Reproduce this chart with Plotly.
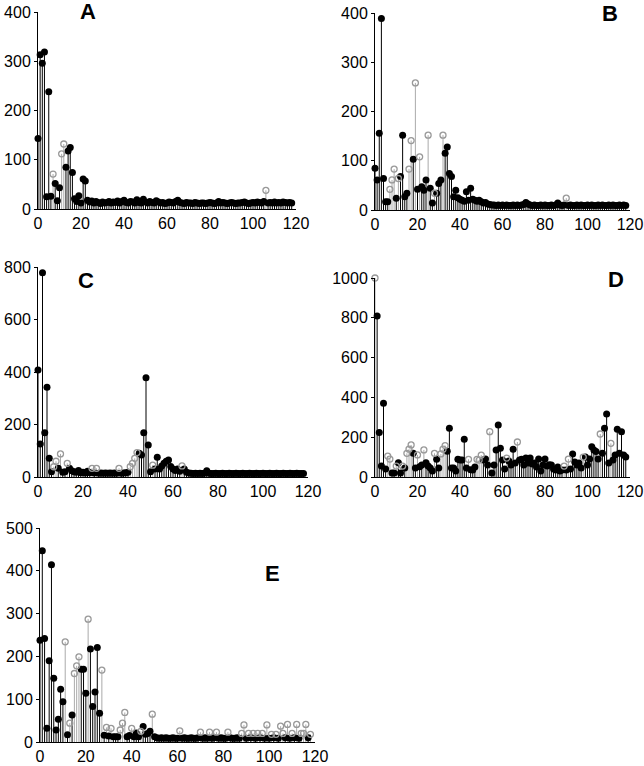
import plotly.graph_objects as go

# ---------------- data (x = 0..118 for every panel) ----------------
a_vals = [143, 313, 296, 319, 25, 238, 26, 71, 52, 17, 43, 112, 132, 85, 118, 125, 74, 21, 15, 27,
          12, 61, 57, 18, 14, 16, 12, 15, 13, 11, 14, 12, 13, 15, 12, 14, 13, 16, 12, 15,
          18, 13, 12, 15, 14, 12, 19, 13, 12, 20, 14, 12, 15, 13, 12, 17, 14, 12, 13, 11,
          12, 14, 13, 12, 15, 18, 13, 12, 11, 13, 12, 12, 11, 13, 12, 11, 12, 12, 11, 12,
          13, 12, 11, 12, 15, 12, 13, 12, 11, 12, 13, 12, 11, 12, 12, 13, 14, 12, 11, 12,
          13, 12, 14, 13, 12, 15, 38, 12, 13, 12, 14, 12, 13, 12, 14, 13, 12, 13, 12]
a_gray = [7, 11, 12, 106]

b_vals = [85, 61, 156, 389, 64, 17, 17, 42, 61, 83, 24, 64, 68, 152, 27, 34, 83, 141, 103, 258,
          42, 108, 47, 40, 61, 152, 44, 14, 34, 34, 54, 61, 152, 115, 128, 74, 68, 27, 40, 25,
          22, 20, 18, 37, 20, 44, 22, 20, 18, 20, 17, 14, 15, 12, 11, 10, 10, 9, 10, 9,
          10, 9, 10, 9, 9, 10, 9, 10, 9, 10, 11, 15, 12, 10, 9, 10, 9, 9, 10, 9,
          10, 9, 9, 10, 9, 10, 14, 10, 9, 10, 24, 9, 10, 9, 9, 10, 9, 10, 9, 9,
          10, 9, 10, 9, 9, 10, 9, 10, 9, 9, 10, 9, 10, 9, 9, 10, 9, 10, 9]
b_gray = [7, 8, 9, 11, 16, 17, 19, 21, 25, 28, 32, 90]

c_vals = [408, 126, 778, 169, 342, 71, 20, 39, 60, 33, 88, 18, 20, 52, 33, 24, 20, 18, 25, 16,
          18, 15, 22, 16, 33, 15, 33, 14, 15, 14, 15, 14, 15, 14, 15, 14, 33, 14, 15, 16,
          18, 39, 52, 71, 93, 90, 84, 169, 378, 122, 20, 45, 30, 75, 30, 42, 52, 60, 65, 40,
          30, 25, 30, 22, 42, 30, 18, 15, 14, 13, 14, 13, 14, 13, 14, 24, 14, 13, 13, 14,
          13, 13, 14, 13, 13, 14, 13, 13, 14, 13, 13, 14, 13, 13, 14, 13, 13, 14, 13, 13,
          14, 13, 13, 14, 13, 13, 14, 13, 13, 14, 13, 13, 14, 13, 13, 14, 13, 13, 13]
c_gray = [7, 8, 10, 13, 24, 26, 36, 41, 42, 43, 44, 51, 64]

d_vals = [1000, 809, 223, 55, 370, 40, 105, 90, 20, 20, 55, 72, 20, 55, 45, 119, 140, 161, 119, 45,
          111, 52, 60, 136, 72, 55, 45, 30, 119, 89, 45, 116, 140, 158, 130, 245, 45, 45, 30, 89,
          85, 85, 190, 45, 89, 37, 35, 50, 89, 85, 110, 85, 90, 60, 228, 20, 60, 136, 261, 145,
          85, 40, 95, 80, 60, 139, 70, 176, 85, 89, 60, 95, 70, 95, 65, 70, 50, 90, 30, 60,
          90, 55, 62, 60, 40, 35, 50, 30, 35, 55, 35, 90, 40, 115, 75, 60, 70, 45, 100, 100,
          60, 90, 152, 136, 128, 90, 216, 119, 245, 316, 70, 169, 85, 110, 240, 119, 228, 110, 100]
d_gray = [0, 6, 7, 10, 13, 15, 16, 17, 20, 23, 28, 31, 32, 33, 44, 48, 49, 50, 54, 62, 67,
          89, 91, 98, 106, 111]

e_vals = [238, 447, 242, 32, 190, 414, 149, 28, 53, 123, 94, 234, 17, 44, 63, 160, 178, 199, 170, 170,
          114, 287, 217, 83, 117, 221, 67, 168, 16, 34, 14, 32, 12, 12, 12, 28, 44, 69, 12, 15,
          32, 12, 21, 12, 25, 36, 18, 20, 25, 65, 12, 10, 9, 10, 9, 10, 9, 9, 10, 9,
          9, 26, 9, 10, 9, 9, 10, 9, 9, 10, 23, 9, 10, 9, 23, 9, 10, 23, 9, 10,
          9, 9, 23, 10, 9, 9, 10, 9, 20, 40, 9, 20, 10, 20, 9, 20, 10, 20, 9, 40,
          9, 18, 10, 18, 9, 37, 20, 10, 41, 9, 20, 10, 41, 9, 20, 20, 41, 10, 18]
e_gray = [11, 13, 15, 16, 17, 21, 27, 29, 31, 35, 36, 37, 40, 44, 49, 61, 70, 74, 77, 82, 88, 89,
          91, 93, 95, 97, 99, 101, 103, 105, 106, 108, 110, 112, 114, 115, 116, 118]

x_ticks = [0, 20, 40, 60, 80, 100, 120]

W, H = 644, 766
FONT = "Liberation Sans"


def fx(px):
    return px / W


def fy(py):
    return 1 - py / H


# panel: (values, gray idx, letter, x0px, x120px, y0px, ytop_px, ymax, dtick, letter_x, letter_y)
panels = [
    (a_vals, a_gray, "A", 38, 296, 209, 12, 400, 100, 88, 12),
    (b_vals, b_gray, "B", 375, 630, 210, 13, 400, 100, 610, 14),
    (c_vals, c_gray, "C", 38, 308, 477, 267, 800, 200, 86, 280),
    (d_vals, d_gray, "D", 375, 630, 477, 278, 1000, 200, 616, 279),
    (e_vals, e_gray, "E", 40, 315, 742, 528, 500, 100, 272, 573),
]

fig = go.Figure()
layout = dict(width=W, height=H, margin=dict(l=0, r=0, t=0, b=0, autoexpand=False),
              paper_bgcolor="white", plot_bgcolor="white", showlegend=False,
              font=dict(family=FONT, size=16, color="black"))
annotations = []

for i, (vals, gray, letter, x0, x1, y0, yt, ymax, dt, lx, ly) in enumerate(panels):
    n = i + 1
    xa = "x" if n == 1 else f"x{n}"
    ya = "y" if n == 1 else f"y{n}"
    xs = list(range(len(vals)))
    gset = set(gray)
    stems = {True: ([], []), False: ([], [])}
    for x, v in zip(xs, vals):
        sx, sy = stems[x in gset]
        sx += [x, x, None]
        sy += [0, v, None]
    for g, col in ((True, "#aaaaaa"), (False, "black")):
        sx, sy = stems[g]
        fig.add_trace(go.Scatter(x=sx, y=sy, mode="lines", xaxis=xa, yaxis=ya,
                                 line=dict(color=col, width=1), hoverinfo="skip",
                                 cliponaxis=False))
    bx = [x for x in xs if x not in gset]
    by = [vals[x] for x in bx]
    gx = [x for x in xs if x in gset]
    gy = [vals[x] for x in gx]
    fig.add_trace(go.Scatter(x=bx, y=by, mode="markers", xaxis=xa, yaxis=ya,
                             marker=dict(symbol="circle", size=7, color="black"),
                             cliponaxis=False))
    fig.add_trace(go.Scatter(x=gx, y=gy, mode="markers", xaxis=xa, yaxis=ya,
                             marker=dict(symbol="circle-open", size=6, color="#999999",
                                         line=dict(width=1.3)),
                             cliponaxis=False))
    layout["xaxis" if n == 1 else f"xaxis{n}"] = dict(
        domain=[fx(x0), fx(x1)], range=[0, 120], anchor=ya, tickvals=x_ticks, automargin=False,
        showgrid=False, zeroline=False, showline=True, linecolor="black", linewidth=1,
        ticks="", ticklabeloverflow="allow",
        tickfont=dict(family=FONT, size=16, color="black"))
    layout["yaxis" if n == 1 else f"yaxis{n}"] = dict(
        domain=[fy(y0), fy(yt)], range=[0, ymax], anchor=xa, dtick=dt, automargin=False,
        showgrid=False, zeroline=False, showline=True, linecolor="black", linewidth=1,
        ticks="outside", ticklen=3, tickcolor="black", ticklabeloverflow="allow",
        tickfont=dict(family=FONT, size=16, color="black"))
    annotations.append(dict(x=fx(lx), y=fy(ly), xref="paper", yref="paper",
                            text=f"<b>{letter}</b>", showarrow=False,
                            font=dict(family=FONT, size=22, color="black"),
                            xanchor="center", yanchor="middle"))

layout["annotations"] = annotations
fig.update_layout(**layout)
fig.write_html(
    "out.html",
    config={"displayModeBar": False},
    post_script="document.body.style.margin='0';document.body.style.overflow='hidden';"
                "document.documentElement.style.overflow='hidden';",
)
